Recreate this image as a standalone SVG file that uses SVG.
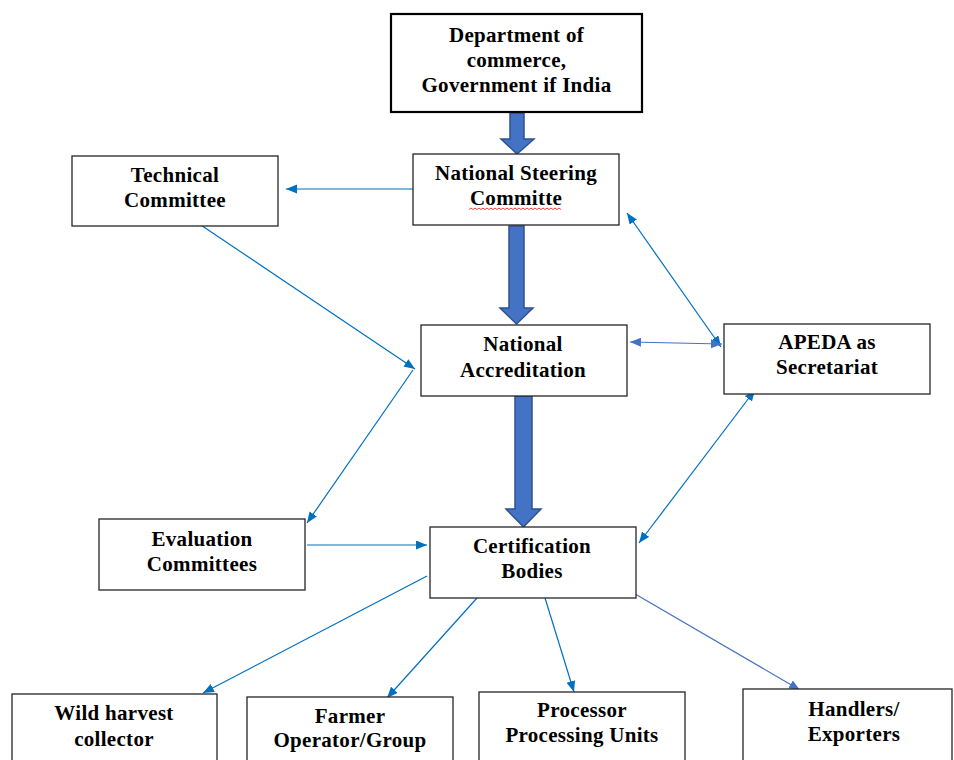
<svg xmlns="http://www.w3.org/2000/svg" width="954" height="760" viewBox="0 0 954 760">
<style>
.box{fill:#ffffff;stroke:#262626;stroke-width:1.3}
.top{fill:#ffffff;stroke:#000000;stroke-width:2.2}
.t{font-family:"Liberation Serif","Times New Roman",serif;font-weight:bold;font-size:21px;letter-spacing:0.3px;fill:#000000;text-anchor:middle}
.c{fill:none;stroke:#0070C0;stroke-width:1.2}
.c2{fill:none;stroke:#4472C4;stroke-width:1.2}
.blk{fill:#4472C4;stroke:#2F528F;stroke-width:1.5}
</style>
<defs>
<marker id="ah" markerUnits="userSpaceOnUse" markerWidth="12" markerHeight="10" refX="11" refY="4.5" orient="auto-start-reverse"><path d="M0,0 L11,4.5 L0,9 z" fill="#0070C0"/></marker>
<marker id="ah2" markerUnits="userSpaceOnUse" markerWidth="12" markerHeight="10" refX="11" refY="4.5" orient="auto-start-reverse"><path d="M0,0 L11,4.5 L0,9 z" fill="#4472C4"/></marker>
</defs>
<rect width="954" height="760" fill="#ffffff"/>
<g id="connectors">
<path class="blk" d="M510,113 L524,113 L524,139 L534,139 L517,154 L501,139 L510,139 z"/>
<path class="blk" d="M509,226 L524,226 L524,308 L533,308 L516.5,324 L500,308 L509,308 z"/>
<path class="blk" d="M515,396 L532,396 L532,509 L541,509 L523.5,527 L506,509 L515,509 z"/>
<line class="c" x1="413" y1="189" x2="286" y2="189" marker-end="url(#ah)"/>
<line class="c" x1="180" y1="211" x2="415" y2="369" marker-end="url(#ah)"/>
<line class="c" x1="413" y1="370" x2="307" y2="523" marker-end="url(#ah)"/>
<line class="c" x1="721" y1="347" x2="627" y2="213" marker-start="url(#ah)" marker-end="url(#ah)"/>
<line class="c2" x1="722" y1="344" x2="630" y2="342" marker-start="url(#ah2)" marker-end="url(#ah2)"/>
<line class="c" x1="639" y1="543" x2="755" y2="390" marker-start="url(#ah)" marker-end="url(#ah)"/>
<line class="c" x1="307" y1="545" x2="427" y2="545" marker-end="url(#ah)"/>
<line class="c" x1="427" y1="576" x2="203" y2="693" marker-end="url(#ah)"/>
<line class="c" x1="477" y1="598" x2="387" y2="698" marker-end="url(#ah)"/>
<line class="c" x1="545" y1="598" x2="574" y2="692" marker-end="url(#ah)"/>
<line class="c2" x1="630" y1="591" x2="800" y2="690" marker-end="url(#ah2)"/>
</g>
<g id="dept">
<rect class="top" x="391" y="14" width="251" height="98"/>
<text class="t" x="516.5" y="42">Department of</text>
<text class="t" x="516.5" y="67">commerce,</text>
<text class="t" x="516.5" y="92">Government if India</text>
</g>
<g id="nsc">
<rect class="box" x="413" y="154" width="206" height="71"/>
<text class="t" x="516" y="180">National Steering</text>
<text class="t" x="516" y="205">Committe</text>
<path d="M469,209.5 l2,-1.5 l2,1.5 l2,-1.5 l2,1.5 l2,-1.5 l2,1.5 l2,-1.5 l2,1.5 l2,-1.5 l2,1.5 l2,-1.5 l2,1.5 l2,-1.5 l2,1.5 l2,-1.5 l2,1.5 l2,-1.5 l2,1.5 l2,-1.5 l2,1.5 l2,-1.5 l2,1.5 l2,-1.5 l2,1.5 l2,-1.5 l2,1.5 l2,-1.5 l2,1.5 l2,-1.5 l2,1.5 l2,-1.5 l2,1.5 l2,-1.5 l2,1.5 l2,-1.5 l2,1.5 l2,-1.5 l2,1.5 l2,-1.5 l2,1.5 l2,-1.5 l2,1.5 l2,-1.5 l2,1.5 l2,-1.5 l2,1.5" fill="none" stroke="#e03030" stroke-width="0.9"/>
</g>
<g id="technical">
<rect class="box" x="72" y="156" width="206" height="70"/>
<text class="t" x="175" y="182">Technical</text>
<text class="t" x="175" y="207">Committee</text>
</g>
<g id="accreditation">
<rect class="box" x="421" y="325" width="206" height="71"/>
<text class="t" x="523" y="351">National</text>
<text class="t" x="523" y="377">Accreditation</text>
</g>
<g id="apeda">
<rect class="box" x="724" y="324" width="206" height="70"/>
<text class="t" x="827" y="349">APEDA as</text>
<text class="t" x="827" y="374">Secretariat</text>
</g>
<g id="evaluation">
<rect class="box" x="99" y="519" width="206" height="71"/>
<text class="t" x="202" y="546">Evaluation</text>
<text class="t" x="202" y="571">Committees</text>
</g>
<g id="certification">
<rect class="box" x="430" y="527" width="206" height="71"/>
<text class="t" x="532" y="553">Certification</text>
<text class="t" x="532" y="578">Bodies</text>
</g>
<g id="wild">
<rect class="box" x="12" y="694" width="205" height="80"/>
<text class="t" x="114" y="720">Wild harvest</text>
<text class="t" x="114" y="746">collector</text>
</g>
<g id="farmer">
<rect class="box" x="247" y="697" width="206" height="80"/>
<text class="t" x="350" y="723">Farmer</text>
<text class="t" x="350" y="747">Operator/Group</text>
</g>
<g id="processor">
<rect class="box" x="479" y="692" width="206" height="80"/>
<text class="t" x="582" y="717">Processor</text>
<text class="t" x="582" y="742">Processing Units</text>
</g>
<g id="handlers">
<rect class="box" x="743" y="689" width="209" height="80"/>
<text class="t" x="854" y="716">Handlers/</text>
<text class="t" x="854" y="741">Exporters</text>
</g>
</svg>
